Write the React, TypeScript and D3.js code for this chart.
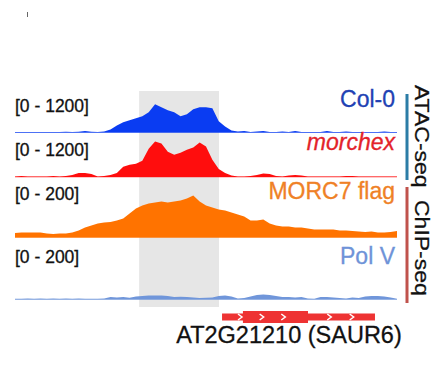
import React from 'react';
import * as d3 from 'd3';

// genomic window (bp, relative to region start), 50 bp bins
const regionStart = 0;
const regionEnd = 3000;
const binSize = 50;

const col0 = [16, 16, 16, 16, 16, 16, 16, 16, 20, 16, 25, 45, 20, 16, 32, 96, 224, 320, 384, 448, 512, 640, 896, 800, 704, 640, 512, 576, 736, 800, 800, 768, 352, 192, 64, 32, 48, 16, 32, 48, 16, 16, 32, 16, 48, 16, 16, 16, 16, 48, 16, 16, 32, 16, 16, 16, 16, 16, 32, 16, 16];
const morchex = [16, 32, 16, 16, 16, 16, 32, 16, 32, 64, 128, 128, 96, 16, 32, 64, 128, 320, 384, 416, 512, 896, 1120, 1056, 800, 704, 768, 864, 928, 1088, 960, 544, 256, 128, 48, 16, 16, 32, 64, 112, 96, 32, 16, 48, 64, 48, 16, 16, 16, 16, 16, 16, 32, 32, 16, 16, 16, 16, 16, 16, 16];
const morc7 = [17, 19, 19, 19, 19, 15, 13, 15, 15, 19, 27, 38, 46, 54, 58, 60, 65, 73, 92, 112, 123, 131, 135, 138, 135, 138, 142, 150, 162, 138, 123, 115, 108, 104, 96, 88, 81, 65, 65, 69, 54, 46, 42, 42, 38, 38, 35, 31, 31, 31, 31, 27, 27, 25, 23, 21, 23, 19, 19, 21, 25];
const polV = [3, 3, 4, 3, 3.5, 3, 4, 3, 4, 3, 3.5, 3, 2.5, 3, 4, 10, 8, 10, 7, 12, 13, 15, 15, 15, 13, 10, 11, 10, 8, 6, 7, 8, 13, 15, 12, 4, 6, 12, 17, 19, 17, 13, 10, 10, 8, 10, 4, 3, 10, 10, 8, 6, 4, 8, 6, 12, 13, 13, 12, 8, 3];

const trackNames = ['Col-0', 'morchex', 'MORC7 flag', 'Pol V'];
const trackMax = [1200, 1200, 200, 200];
const trackData = [col0, morchex, morc7, polV];

// highlighted region and gene model (bp)
const shade = [975, 1602];
const geneSpan = [1626, 2827];
const geneThick = [1790, 2301];
const geneArrows = [1767, 1937, 2107, 2468, 2644];
const geneName = 'AT2G21210 (SAUR6)';

const groups = [
  { name: 'ATAC-seq', tracks: [0, 1], color: '#2b7ca6' },
  { name: 'ChIP-seq', tracks: [2, 3], color: '#c0524c' },
];

const W = 433;
const H = 370;
const font = '"Liberation Sans", Arial, Helvetica, sans-serif';

// layout of each track: baseline y and pixel height of full scale
const tracks = [
  { base: 132.5, h: 38, fill: '#0a3cf2', label: '#2141b3', italic: false, rangeY: 111.5, nameY: 106.5 },
  { base: 177, h: 38, fill: '#ff0d0d', label: '#e3232a', italic: true, rangeY: 155.5, nameY: 150 },
  { base: 237.5, h: 52, fill: '#ff7300', label: '#ef8126', italic: false, rangeY: 200, nameY: 198.5 },
  { base: 299.5, h: 52, fill: '#7096da', label: '#6e93d8', italic: false, rangeY: 262.5, nameY: 263.5 },
];

export default function App() {
  const x = d3.scaleLinear().domain([regionStart, regionEnd]).range([15, 397]);
  const geneY = 317;

  return (
    <svg width={W} height={H} style={{ position: 'absolute', left: 0, top: 0, background: '#fff' }}>
      <line x1={27.5} x2={27.5} y1={12} y2={17} stroke="#666" strokeWidth={1} />

      <rect x={x(shade[0])} y={91} width={x(shade[1]) - x(shade[0])} height={216} fill="#e6e6e6" />

      {trackData.map((vals, t) => {
        const cfg = tracks[t];
        const y = d3.scaleLinear().domain([0, trackMax[t]]).range([cfg.base, cfg.base - cfg.h]);
        const area = d3.area<number>()
          .x((_, i) => x(regionStart + i * binSize))
          .y0(cfg.base)
          .y1(d => y(d))
          .curve(d3.curveLinear);
        return (
          <g key={t}>
            <line x1={x(regionStart)} x2={x(regionEnd)} y1={cfg.base} y2={cfg.base} stroke={cfg.fill} strokeOpacity={0.45} strokeWidth={1} />
            <path d={area(vals) || ''} fill={cfg.fill} />
            <text x={15} y={cfg.rangeY} fontFamily={font} fontSize={17.5} fill="#111"
              stroke="#111" strokeWidth={0.3}>
              {`[0 - ${trackMax[t]}]`}
            </text>
            <text x={395} y={cfg.nameY} textAnchor="end" fontFamily={font} fontSize={23}
              fontStyle={cfg.italic ? 'italic' : 'normal'} fill={cfg.label}
              stroke={cfg.label} strokeWidth={0.3}>
              {trackNames[t]}
            </text>
          </g>
        );
      })}

      {groups.map((g, i) => {
        const top = i === 0 ? 94 : 187;
        const bottom = i === 0 ? 180 : 303;
        const ty = i === 0 ? 85 : 200;
        return (
          <g key={g.name}>
            <rect x={405.5} y={top} width={3} height={bottom - top} fill={g.color} />
            <text transform={`translate(415,${ty}) rotate(90) scale(1,0.85)`} fontFamily={font}
              fontSize={23} fill="#111" stroke="#111" strokeWidth={0.3}>
              {g.name}
            </text>
          </g>
        );
      })}

      <g>
        <rect x={x(geneSpan[0])} y={geneY - 3.5} width={x(geneSpan[1]) - x(geneSpan[0])} height={7} fill="#ee3333" />
        <rect x={x(geneThick[0])} y={geneY - 6} width={x(geneThick[1]) - x(geneThick[0])} height={12} fill="#ee3333" />
        {geneArrows.map(p => (
          <path key={p} d={`M${x(p) - 2},${geneY - 3} L${x(p) + 2},${geneY} L${x(p) - 2},${geneY + 3}`}
            fill="none" stroke="#fff" strokeWidth={1.5} />
        ))}
        <text x={289} y={342.5} textAnchor="middle" fontFamily={font} fontSize={23.5} fill="#111"
          stroke="#111" strokeWidth={0.3}>
          {geneName}
        </text>
      </g>
    </svg>
  );
}
